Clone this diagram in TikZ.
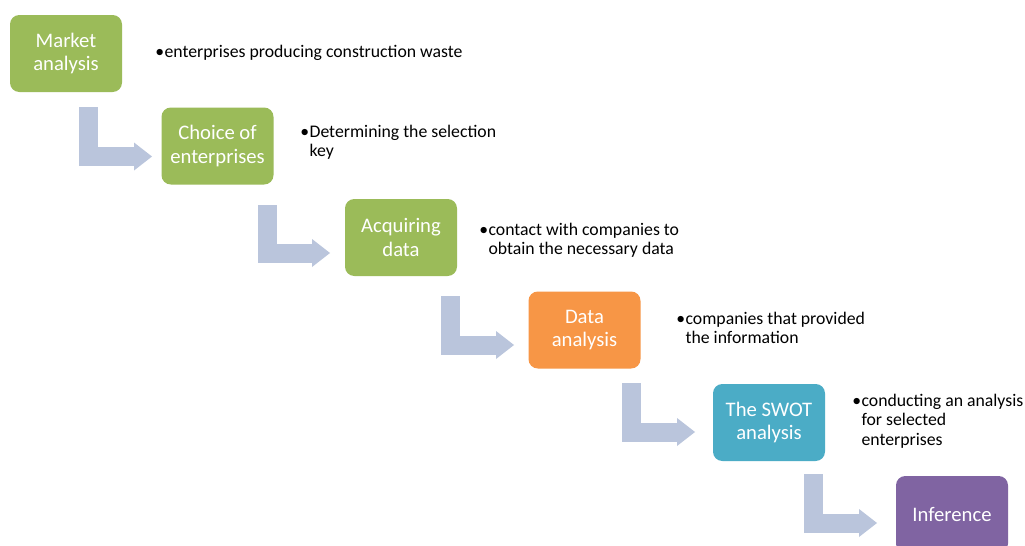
\documentclass[tikz,border=0pt]{standalone}
\usepackage{fontspec}
\setmainfont{Carlito}
\usetikzlibrary{arrows.meta}
\definecolor{cgreen}{HTML}{9BBB59}
\definecolor{corange}{HTML}{F79646}
\definecolor{cteal}{HTML}{4BACC6}
\definecolor{cpurple}{HTML}{8064A2}
\definecolor{carrow}{HTML}{BAC5DC}
\newcommand{\bul}{\makebox[7pt][l]{\textbullet}}
\newcommand{\ind}{\hspace*{7pt}}
\begin{document}
\begin{tikzpicture}[x=0.75pt,y=-0.75pt,
  stepbox/.style={rounded corners=7pt, minimum width=84pt, minimum height=57.75pt,
    inner sep=0pt, align=center, text=white, font=\fontsize{15.5}{17.5}\selectfont},
  desc/.style={anchor=west, align=left, inner sep=0pt, text=black,
    font=\fontsize{13.3}{14.5}\selectfont},
  bent/.style={draw=carrow, line width=14.25pt, line join=miter, line cap=butt,
    -{Triangle[length=13.5pt, width=21pt, line width=0pt]}}]
\useasboundingbox (0,0) rectangle (1025,546);
\clip (0,0) rectangle (1025,546);
\fill[white] (0,0) rectangle (1025,546);

% arrows
\coordinate (a1s) at (88.5,107);  \coordinate (a1e) at (152,156.5);
\coordinate (a2s) at (267,205);   \coordinate (a2e) at (330,253);
\coordinate (a3s) at (450.5,296); \coordinate (a3e) at (514,345);
\coordinate (a4s) at (631.5,383); \coordinate (a4e) at (695,432);
\coordinate (a5s) at (813,474);   \coordinate (a5e) at (877,523);
\draw[bent] (a1s) |- (a1e);
\draw[bent] (a2s) |- (a2e);
\draw[bent] (a3s) |- (a3e);
\draw[bent] (a4s) |- (a4e);
\draw[bent] (a5s) |- (a5e);

% boxes
\node[stepbox, fill=cgreen]  (b1) at (66,53.5)   {Market\\analysis};
\node[stepbox, fill=cgreen]  (b2) at (217.5,146) {Choice of\\enterprises};
\node[stepbox, fill=cgreen]  (b3) at (401,237.5) {Acquiring\\data};
\node[stepbox, fill=corange] (b4) at (584.5,330) {Data\\analysis};
\node[stepbox, fill=cteal]   (b5) at (769,422.5) {The SWOT\\analysis};
\node[stepbox, fill=cpurple] (b6) at (952,514.5) {Inference};

% descriptions
\node[desc] (d1) at (155,53)  {\bul enterprises producing construction waste};
\node[desc] (d2) at (300,142) {\bul Determining the selection\\\ind key};
\node[desc] (d3) at (479,240) {\bul contact with companies to\\\ind obtain the necessary data};
\node[desc] (d4) at (676,328) {\bul companies that provided\\\ind the information};
\node[desc] (d5) at (852,421) {\bul conducting an analysis\\\ind for selected\\\ind enterprises};
\end{tikzpicture}
\end{document}
